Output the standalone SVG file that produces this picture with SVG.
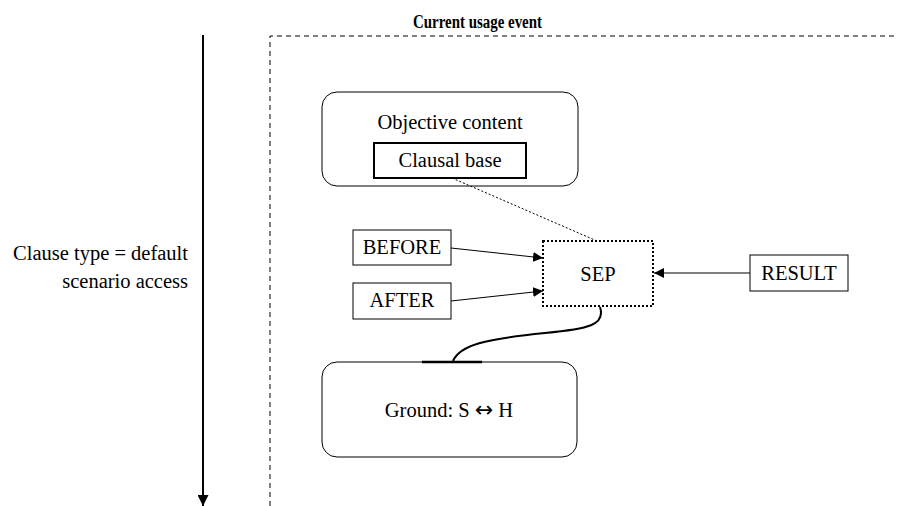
<svg xmlns="http://www.w3.org/2000/svg" width="897" height="506" viewBox="0 0 897 506">
<style>
text{font-family:"Liberation Serif","Times New Roman",serif;font-size:20.5px;fill:#000}
.box{fill:#fff;stroke:#000;stroke-width:1}
.ln{fill:none;stroke:#000;stroke-width:1}
</style>
<defs>
<marker id="ah" viewBox="0 0 10 10" refX="10" refY="5" markerWidth="10" markerHeight="10" markerUnits="userSpaceOnUse" orient="auto">
<path d="M0,0 L10,5 L0,10 z" fill="#000"/>
</marker>
<marker id="ahb" viewBox="0 0 10 10" refX="10" refY="5" markerWidth="11" markerHeight="11" markerUnits="userSpaceOnUse" orient="auto">
<path d="M0,0 L10,5 L0,10 z" fill="#000"/>
</marker>
</defs>
<rect width="897" height="506" fill="#fff"/>
<g id="timeline">
<line x1="203" y1="35" x2="203" y2="506" stroke="#000" stroke-width="2" marker-end="url(#ahb)"/>
<text x="188" y="260" text-anchor="end">Clause type = default</text>
<text x="188" y="288" text-anchor="end">scenario access</text>
</g>
<g id="usage-event">
<path d="M270,506 V36 H897" fill="none" stroke="#000" stroke-width="1" stroke-dasharray="5,4"/>
<text x="413" y="28" font-weight="bold" textLength="129" lengthAdjust="spacingAndGlyphs" style="font-size:18px">Current usage event</text>
</g>
<g id="objective-content">
<rect class="box" x="322" y="92" width="256" height="94" rx="15"/>
<text x="450" y="129" text-anchor="middle">Objective content</text>
</g>
<g id="clausal-base">
<rect x="374" y="143" width="152" height="35" fill="#fff" stroke="#000" stroke-width="2"/>
<text x="450" y="167" text-anchor="middle">Clausal base</text>
</g>
<g id="before">
<rect class="box" x="353" y="230" width="98" height="35"/>
<text x="402" y="254" text-anchor="middle">BEFORE</text>
</g>
<g id="after">
<rect class="box" x="353" y="283" width="98" height="36"/>
<text x="402" y="307" text-anchor="middle">AFTER</text>
</g>
<g id="sep">
<rect x="543" y="241" width="110" height="65" fill="#fff" stroke="#000" stroke-width="2" stroke-dasharray="2,2"/>
<text x="598" y="281" text-anchor="middle">SEP</text>
</g>
<g id="result">
<rect class="box" x="750" y="255" width="98" height="36"/>
<text x="799" y="280" text-anchor="middle">RESULT</text>
</g>
<g id="ground">
<rect class="box" x="322" y="362" width="255" height="95" rx="15"/>
<line x1="422" y1="362" x2="482" y2="362" stroke="#000" stroke-width="2.5"/>
<text x="449" y="417" text-anchor="middle">Ground: S <tspan style="font-family:'DejaVu Sans',sans-serif;font-size:22px">↔</tspan> H</text>
</g>
<g id="connectors">
<line class="ln" x1="452" y1="178" x2="597" y2="241" stroke-dasharray="2,2"/>
<line class="ln" x1="451" y1="248" x2="543" y2="258" marker-end="url(#ah)"/>
<line class="ln" x1="451" y1="301" x2="543" y2="291" marker-end="url(#ah)"/>
<line class="ln" x1="750" y1="273" x2="654" y2="273" marker-end="url(#ah)"/>
<path d="M600,307 C606,325 588,329 545,333 C485,339 460,345 453,361" fill="none" stroke="#000" stroke-width="2"/>
</g>
</svg>
